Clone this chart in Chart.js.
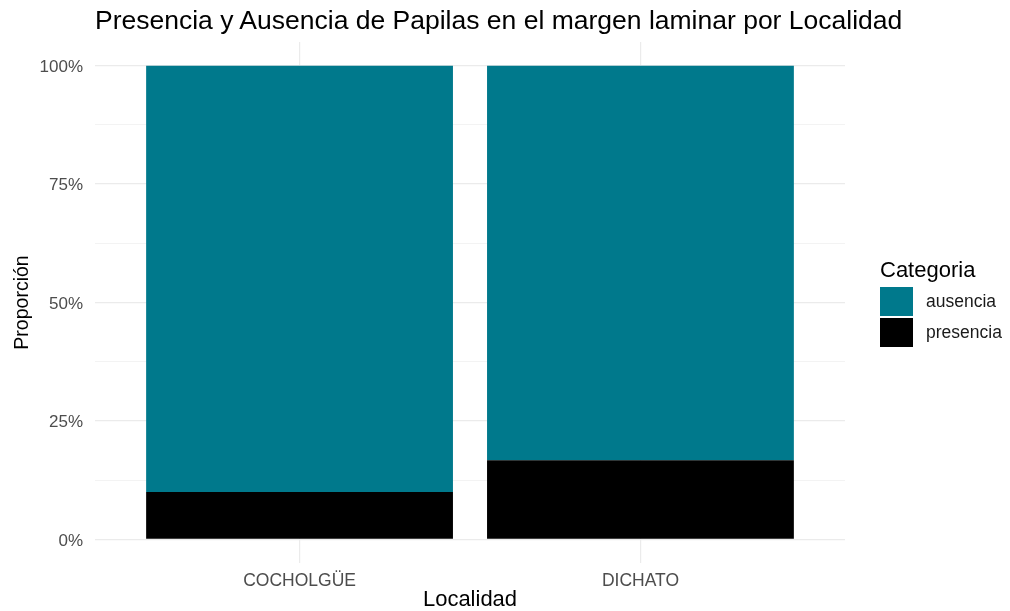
<!DOCTYPE html>
<html>
<head>
<meta charset="utf-8">
<script src="https://cdn.jsdelivr.net/npm/chart.js@4"></script>
<style>
  html, body { margin: 0; padding: 0; background: #ffffff; }
  #wrap { position: relative; width: 1010px; height: 611px; }
  #c { position: absolute; left: 0; top: 0; }
  #title { position: absolute; left: 95px; top: 7px; font-family: "Liberation Sans", Arial, sans-serif; font-size: 26.5px; line-height: 26.5px; color: #000; white-space: nowrap; }
  #legend { position: absolute; left: 880px; top: 253px; font-family: "Liberation Sans", Arial, sans-serif; }
  #legend .ttl { font-size: 22px; color: #000; height: 33px; line-height: 33px; }
  #legend .item { display: flex; align-items: center; height: 31px; }
  #legend .key { width: 33px; height: 29px; margin-right: 13px; }
  #legend .lab { font-size: 17.5px; color: #1a1a1a; }
</style>
</head>
<body>
<div id="wrap">
  <canvas id="c" width="1010" height="611"></canvas>
  <div id="title"></div>
  <div id="legend"></div>
</div>
<script>
const categories = ["COCHOLGÜE", "DICHATO"];
const presencia = [0.10, 0.1667];
const ausencia = [0.90, 0.8333];
const seriesNames = ["ausencia", "presencia"];
const seriesColors = ["#00798C", "#000000"];
const yTicks = [0, 0.125, 0.25, 0.375, 0.5, 0.625, 0.75, 0.875, 1];
const yLabels = {0: "0%", 0.25: "25%", 0.5: "50%", 0.75: "75%", 1: "100%"};
const titleText = "Presencia y Ausencia de Papilas en el margen laminar por Localidad";
const xTitle = "Localidad";
const yTitle = "Proporción";
const legendTitle = "Categoria";

const FONT = "'Liberation Sans', Arial, sans-serif";

function pts(arr) { return arr.map((v, i) => ({ x: i + 1, y: v })); }

const datasets = [
  { label: seriesNames[1], data: pts(presencia), backgroundColor: seriesColors[1] },
  { label: seriesNames[0], data: pts(ausencia), backgroundColor: seriesColors[0] }
];

new Chart(document.getElementById("c"), {
  type: "bar",
  data: { datasets: datasets },
  options: {
    responsive: false,
    animation: false,
    layout: { padding: { left: 0, right: 165, top: 42, bottom: 0 } },
    datasets: { bar: { barPercentage: 0.9, categoryPercentage: 1.0, borderWidth: 0 } },
    plugins: {
      legend: { display: false },
      tooltip: { enabled: false },
      title: { display: false }
    },
    scales: {
      x: {
        type: "linear", min: 0.4, max: 2.6, stacked: true, offset: false,
        afterBuildTicks: s => { s.ticks = categories.map((c, i) => ({ value: i + 1 })); },
        afterFit: s => { s.height = 48; },
        ticks: {
          callback: v => categories[Math.round(v) - 1],
          color: "#4D4D4D", font: { family: FONT, size: 17.5 }, padding: 8, maxRotation: 0, autoSkip: false
        },
        grid: { color: "#EBEBEB", lineWidth: 1.2, drawTicks: false, offset: false },
        border: { display: false },
        title: { display: true, text: xTitle, color: "#000", font: { family: FONT, size: 22, lineHeight: 1 }, padding: { top: 0, bottom: 0 } }
      },
      y: {
        type: "linear", min: -0.05, max: 1.05, stacked: true,
        afterBuildTicks: s => { s.ticks = yTicks.map(v => ({ value: v })); },
        afterFit: s => { s.width = 95; },
        ticks: {
          callback: v => (yLabels[v] !== undefined ? yLabels[v] : ""),
          color: "#4D4D4D", font: { family: FONT, size: 17 }, padding: 12, autoSkip: false, labelOffset: 1.5
        },
        grid: {
          color: "#EBEBEB",
          lineWidth: ctx => (ctx.tick && yLabels[ctx.tick.value] !== undefined ? 1.2 : 0.6),
          drawTicks: false
        },
        border: { display: false },
        title: { display: true, text: yTitle, color: "#000", font: { family: FONT, size: 19.5, lineHeight: 1 }, padding: { top: 13, bottom: 0 } }
      }
    }
  }
});

document.getElementById("title").textContent = titleText;
const lg = document.getElementById("legend");
const t = document.createElement("div");
t.className = "ttl"; t.textContent = legendTitle; lg.appendChild(t);
seriesNames.forEach((n, i) => {
  const it = document.createElement("div"); it.className = "item";
  const k = document.createElement("div"); k.className = "key"; k.style.background = seriesColors[i];
  const l = document.createElement("div"); l.className = "lab"; l.textContent = n;
  it.appendChild(k); it.appendChild(l); lg.appendChild(it);
});
</script>
</body>
</html>
